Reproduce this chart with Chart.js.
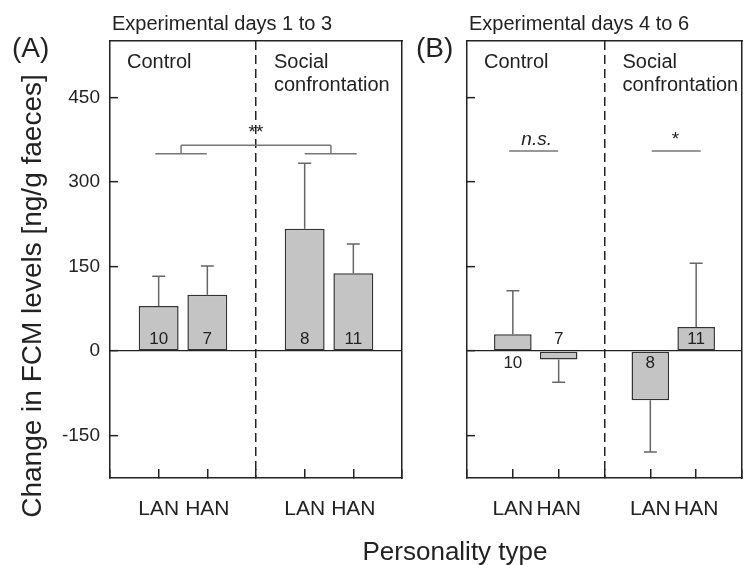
<!DOCTYPE html>
<html>
<head>
<meta charset="utf-8">
<title>Change in FCM levels</title>
<script src="https://cdn.jsdelivr.net/npm/chart.js@4.4.0/dist/chart.umd.min.js"></script>
<style>
  html, body { margin: 0; padding: 0; background: #fff; overflow: hidden; }
  #wrap { position: relative; width: 748px; height: 565px; overflow: hidden; }
  #wrap canvas { position: absolute; left: 0; top: 0; }
</style>
</head>
<body>
<div id="wrap">
  <canvas id="panelA" width="770" height="565"></canvas>
  <canvas id="panelB" width="770" height="565"></canvas>
</div>
<script>
// --- DATA ---
const personalityTypes = ['LAN', 'HAN'];
const groupLabels = [['Control'], ['Social', 'confrontation']];
const panelTitles = ['Experimental days 1 to 3', 'Experimental days 4 to 6'];
const panelLetters = ['(A)', '(B)'];
const yTicks = [-150, 0, 150, 300, 450];
const yTitle = 'Change in FCM levels [ng/g faeces]';
const xTitle = 'Personality type';

// order: Control LAN, Control HAN, Social LAN, Social HAN
const meansA = [80, 100, 217, 138];
const errorsA = [53, 51, 116, 52];
const sampleA = [10, 7, 8, 11];

const meansB = [30, -15, -87, 43];
const errorsB = [77, 40, 92, 113];
const sampleB = [10, 7, 8, 11];

// significance marks, in axis units: [from, to, value]
const sigLinesA = [[0.93, 1.99, 350], [4.0, 5.07, 350], [1.46, 4.54, 365]];
const sigStemsA = [[1.46, 350, 365], [4.54, 350, 365]];
const sigTextA = [['**', 3.0, 388, false]];
const sigLinesB = [[0.92, 1.99, 355], [4.03, 5.1, 355]];
const sigStemsB = [];
const sigTextB = [['n.s.', 1.52, 375, true], ['*', 4.55, 374, false]];

document.addEventListener('DOMContentLoaded', function () {
    const FONT = "'Liberation Sans', Arial, sans-serif";
    const INK = '#222';
    const CANVAS_W = 770;
    const PLOT_W = 292;
    const PLOT_TOP = 41;
    const PLOT_BOTTOM = 478;

    // 7 slots: frame edge, LAN, HAN, divider, LAN, HAN, frame edge
    const slotLabels = ['', ...personalityTypes, '', ...personalityTypes, ''];
    const barSlots = slotLabels.map((l, i) => (l ? i : -1)).filter(i => i >= 0);

    function toSlots(values) {
        const out = slotLabels.map(() => null);
        barSlots.forEach((s, i) => { out[s] = values[i]; });
        return out;
    }

    // --- ANNOTATIONS (error bars, n, significance, texts) ---
    function makeDecor(panel) {
        return {
            id: 'decor' + panel.key,
            afterDatasetsDraw(chart) {
                const ctx = chart.ctx;
                const xs = chart.scales.x;
                const ys = chart.scales.y;
                const meta = chart.getDatasetMeta(0);
                const zero = ys.getPixelForValue(0);

                ctx.save();
                // error bars
                ctx.strokeStyle = '#666';
                ctx.lineWidth = 1.5;
                barSlots.forEach((slot, i) => {
                    const bar = meta.data[slot];
                    const mean = panel.means[i];
                    const tip = mean + Math.sign(mean) * panel.errors[i];
                    const y0 = ys.getPixelForValue(mean);
                    const y1 = ys.getPixelForValue(tip);
                    ctx.beginPath();
                    ctx.moveTo(bar.x, y0);
                    ctx.lineTo(bar.x, y1);
                    ctx.moveTo(bar.x - 6.5, y1);
                    ctx.lineTo(bar.x + 6.5, y1);
                    ctx.stroke();
                });

                // sample sizes
                ctx.fillStyle = INK;
                ctx.font = '17px ' + FONT;
                ctx.textAlign = 'center';
                ctx.textBaseline = 'middle';
                barSlots.forEach((slot, i) => {
                    const bar = meta.data[slot];
                    const mean = panel.means[i];
                    const h = Math.abs(ys.getPixelForValue(mean) - zero);
                    const side = h > 20 ? Math.sign(mean) : -Math.sign(mean);
                    ctx.fillText(String(panel.n[i]), bar.x, zero - side * 12);
                });

                // significance lines
                ctx.strokeStyle = '#777';
                ctx.lineWidth = 1.5;
                ctx.beginPath();
                panel.sigLines.forEach(([a, b, v]) => {
                    const y = ys.getPixelForValue(v);
                    ctx.moveTo(xs.getPixelForValue(a), y);
                    ctx.lineTo(xs.getPixelForValue(b), y);
                });
                panel.sigStems.forEach(([a, v1, v2]) => {
                    const x = xs.getPixelForValue(a);
                    ctx.moveTo(x, ys.getPixelForValue(v1));
                    ctx.lineTo(x, ys.getPixelForValue(v2));
                });
                ctx.stroke();
                panel.sigText.forEach(([txt, a, v, italic]) => {
                    ctx.font = (italic ? 'italic ' : '') + '19px ' + FONT;
                    ctx.fillText(txt, xs.getPixelForValue(a), ys.getPixelForValue(v));
                });
                ctx.restore();
            },
            afterDraw(chart) {
                const ctx = chart.ctx;
                const area = chart.chartArea;
                const xs = chart.scales.x;
                ctx.save();
                ctx.fillStyle = INK;
                ctx.textBaseline = 'middle';
                ctx.textAlign = 'left';

                ctx.font = '20px ' + FONT;
                ctx.fillText(panel.title, area.left + 2, 24);

                ctx.font = '28px ' + FONT;
                ctx.fillText(panel.letter, panel.letterX, 49);

                ctx.font = '20px ' + FONT;
                const groupX = [area.left + 17, xs.getPixelForValue(3) + 18];
                groupLabels.forEach((lines, g) => {
                    lines.forEach((line, k) => ctx.fillText(line, groupX[g], 62 + k * 23));
                });

                if (panel.axisTitles) {
                    ctx.textAlign = 'center';
                    ctx.font = '26px ' + FONT;
                    ctx.fillText(xTitle, 455, 553);
                    ctx.save();
                    ctx.translate(33, 296);
                    ctx.rotate(-Math.PI / 2);
                    ctx.font = '28px ' + FONT;
                    ctx.fillText(yTitle, 0, 0);
                    ctx.restore();
                }
                ctx.restore();
            }
        };
    }

    // --- CHART BUILDER ---
    function buildPanel(canvasId, panel) {
        const ctx = document.getElementById(canvasId).getContext('2d');
        return new Chart(ctx, {
            type: 'bar',
            data: {
                labels: slotLabels,
                datasets: [{
                    data: toSlots(panel.means),
                    backgroundColor: '#c4c4c4',
                    borderColor: '#333',
                    borderWidth: 1.5,
                    borderSkipped: false,
                    categoryPercentage: 1,
                    barPercentage: 0.82
                }]
            },
            options: {
                responsive: false,
                devicePixelRatio: 1,
                animation: false,
                layout: {
                    padding: { left: 0, top: PLOT_TOP, right: CANVAS_W - panel.plotLeft - PLOT_W, bottom: 0 }
                },
                plugins: { legend: { display: false }, tooltip: { enabled: false }, title: { display: false } },
                scales: {
                    x: {
                        type: 'category',
                        offset: false,
                        afterFit: axis => { axis.height = 565 - PLOT_BOTTOM; },
                        grid: {
                            offset: false,
                            drawOnChartArea: true,
                            color: c => (c.index === 3 ? INK : 'transparent'),
                            lineWidth: 1.5,
                            tickLength: -9,
                            tickColor: INK,
                            tickWidth: 1.5
                        },
                        border: { color: INK, width: 1.5, dash: [9, 5] },
                        ticks: {
                            autoSkip: false,
                            maxRotation: 0,
                            padding: 28,
                            color: INK,
                            font: { family: FONT, size: 21 }
                        }
                    },
                    y: {
                        min: -225,
                        max: 550,
                        afterBuildTicks: axis => { axis.ticks = yTicks.map(v => ({ value: v })); },
                        afterFit: axis => { axis.width = panel.plotLeft; },
                        grid: {
                            drawOnChartArea: true,
                            color: c => (c.tick && c.tick.value === 0 ? INK : 'transparent'),
                            lineWidth: 1.3,
                            tickLength: -8,
                            tickColor: INK,
                            tickWidth: 1.5
                        },
                        border: { color: INK, width: 1.5 },
                        ticks: {
                            display: panel.showYLabels,
                            padding: 18,
                            color: INK,
                            font: { family: FONT, size: 19 }
                        }
                    },
                    x2: {
                        type: 'linear',
                        position: 'top',
                        afterFit: axis => { axis.height = 0; },
                        grid: { display: false },
                        ticks: { display: false },
                        border: { color: INK, width: 1.5 }
                    },
                    y2: {
                        type: 'linear',
                        position: 'right',
                        afterFit: axis => { axis.width = 0; },
                        grid: { display: false },
                        ticks: { display: false },
                        border: { color: INK, width: 1.5 }
                    }
                }
            },
            plugins: [makeDecor(panel)]
        });
    }

    buildPanel('panelA', {
        key: 'A', title: panelTitles[0], letter: panelLetters[0], letterX: 12,
        plotLeft: 110, showYLabels: true, axisTitles: true,
        means: meansA, errors: errorsA, n: sampleA,
        sigLines: sigLinesA, sigStems: sigStemsA, sigText: sigTextA
    });
    buildPanel('panelB', {
        key: 'B', title: panelTitles[1], letter: panelLetters[1], letterX: 416,
        plotLeft: 467, showYLabels: false, axisTitles: false,
        means: meansB, errors: errorsB, n: sampleB,
        sigLines: sigLinesB, sigStems: sigStemsB, sigText: sigTextB
    });
});
</script>
</body>
</html>
